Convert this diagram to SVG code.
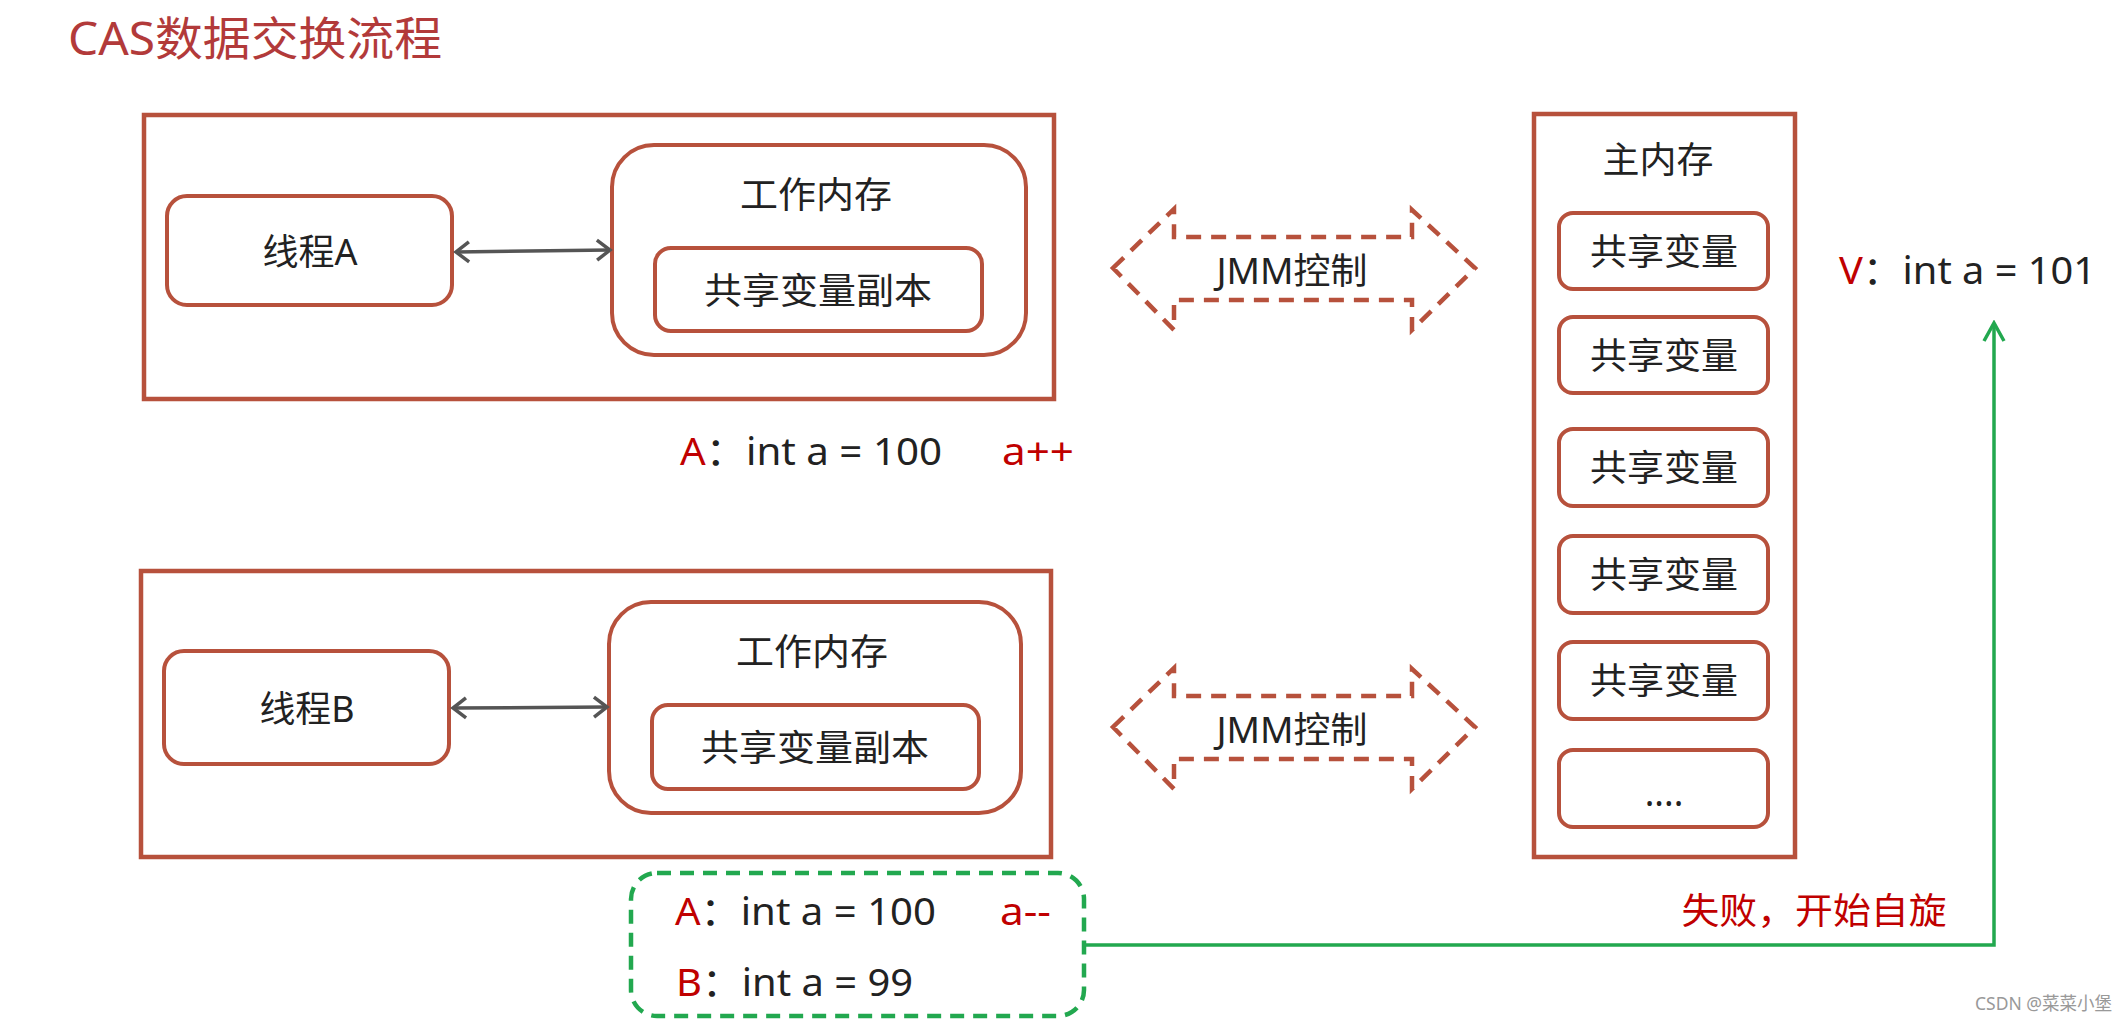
<svg xmlns="http://www.w3.org/2000/svg" width="2127" height="1023" viewBox="0 0 2127 1023">
<defs>
<style>
.box{fill:#fff;stroke:#B7513C;stroke-width:4}
.frame{fill:none;stroke:#B7513C;stroke-width:4.5}
.lbl{font-family:"Noto Sans","Noto Sans CJK SC",sans-serif;fill:#222;text-anchor:middle;dominant-baseline:central;font-size:36px}
.code{font-family:"Noto Sans","Noto Sans CJK SC",sans-serif;fill:#222;font-size:39px}
.red{fill:#C00000}
.jmm{fill:none;stroke:#B7513C;stroke-width:4.5;stroke-dasharray:15 10}
.garrow{fill:none;stroke:#555;stroke-width:3.5}
</style>
<marker id="ga" markerUnits="userSpaceOnUse" markerWidth="22" markerHeight="26" viewBox="0 0 22 26" refX="19" refY="13" orient="auto-start-reverse">
<path d="M6,3 L19,13 L6,23" fill="none" stroke="#555" stroke-width="3.5"/>
</marker>
<marker id="gr" markerUnits="userSpaceOnUse" markerWidth="24" markerHeight="26" viewBox="0 0 24 26" refX="21" refY="13" orient="auto">
<path d="M3,3 L21,13 L3,23" fill="none" stroke="#22A84F" stroke-width="3.5"/>
</marker>
</defs>
<rect width="2127" height="1023" fill="#fff"/>
<text x="68" y="55" font-family="'Noto Sans','Noto Sans CJK SC',sans-serif" font-size="46" fill="#B23A3A" textLength="374" lengthAdjust="spacingAndGlyphs">CAS数据交换流程</text>

<g id="threadA-frame">
<rect class="frame" x="144" y="115" width="910" height="284"/>
</g>
<g id="threadA">
<rect class="box" x="167" y="196" width="285" height="109" rx="20"/>
<text class="lbl" x="310" y="251" textLength="95" lengthAdjust="spacingAndGlyphs">线程A</text>
</g>
<g id="workmemA">
<rect class="box" x="612" y="145" width="414" height="210" rx="42"/>
<text class="lbl" x="816" y="194" textLength="152" lengthAdjust="spacingAndGlyphs">工作内存</text>
</g>
<g id="copyA">
<rect class="box" x="655" y="248" width="327" height="83" rx="16"/>
<text class="lbl" x="818" y="290" textLength="228" lengthAdjust="spacingAndGlyphs">共享变量副本</text>
</g>

<g id="threadB-frame">
<rect class="frame" x="141" y="571" width="910" height="286"/>
</g>
<g id="threadB">
<rect class="box" x="164" y="651" width="285" height="113" rx="20"/>
<text class="lbl" x="307" y="708" textLength="95" lengthAdjust="spacingAndGlyphs">线程B</text>
</g>
<g id="workmemB">
<rect class="box" x="609" y="602" width="412" height="211" rx="42"/>
<text class="lbl" x="812" y="651" textLength="152" lengthAdjust="spacingAndGlyphs">工作内存</text>
</g>
<g id="copyB">
<rect class="box" x="652" y="705" width="327" height="84" rx="16"/>
<text class="lbl" x="815" y="747" textLength="228" lengthAdjust="spacingAndGlyphs">共享变量副本</text>
</g>

<g id="mainmem">
<rect class="frame" x="1534" y="114" width="261" height="743"/>
<text class="lbl" x="1658" y="159" textLength="111" lengthAdjust="spacingAndGlyphs">主内存</text>
</g>
<g id="var1"><rect class="box" x="1559" y="213" width="209" height="76" rx="14"/><text class="lbl" x="1664" y="251" textLength="148" lengthAdjust="spacingAndGlyphs">共享变量</text></g>
<g id="var2"><rect class="box" x="1559" y="317" width="209" height="76" rx="14"/><text class="lbl" x="1664" y="355" textLength="148" lengthAdjust="spacingAndGlyphs">共享变量</text></g>
<g id="var3"><rect class="box" x="1559" y="429" width="209" height="77" rx="14"/><text class="lbl" x="1664" y="467" textLength="148" lengthAdjust="spacingAndGlyphs">共享变量</text></g>
<g id="var4"><rect class="box" x="1559" y="536" width="209" height="77" rx="14"/><text class="lbl" x="1664" y="574" textLength="148" lengthAdjust="spacingAndGlyphs">共享变量</text></g>
<g id="var5"><rect class="box" x="1559" y="642" width="209" height="77" rx="14"/><text class="lbl" x="1664" y="680" textLength="148" lengthAdjust="spacingAndGlyphs">共享变量</text></g>
<g id="var6"><rect class="box" x="1559" y="750" width="209" height="77" rx="14"/><text class="lbl" x="1664" y="792" font-size="20">....</text></g>

<g id="jmm1">
<path class="jmm" d="M1113,268 L1174,209 L1174,237 L1412,237 L1412,210 L1475,268 L1412,330 L1412,300 L1174,300 L1174,330 Z"/>
<text class="lbl" x="1292" y="270" font-size="34" textLength="151" lengthAdjust="spacingAndGlyphs">JMM控制</text>
</g>
<g id="jmm2">
<path class="jmm" d="M1113,727 L1174,668 L1174,696 L1412,696 L1412,669 L1475,727 L1412,789 L1412,759 L1174,759 L1174,789 Z"/>
<text class="lbl" x="1292" y="729" font-size="34" textLength="151" lengthAdjust="spacingAndGlyphs">JMM控制</text>
</g>

<g id="cmpbox">
<rect x="631" y="873" width="453" height="143" rx="26" fill="none" stroke="#22A84F" stroke-width="4.5" stroke-dasharray="14 9"/>
</g>

<g id="connectors">
<line class="garrow" x1="456" y1="252" x2="610" y2="250" marker-start="url(#ga)" marker-end="url(#ga)"/>
<line class="garrow" x1="453" y1="708" x2="607" y2="707" marker-start="url(#ga)" marker-end="url(#ga)"/>
<polyline points="1084,945 1994,945 1994,323" fill="none" stroke="#22A84F" stroke-width="3.5" marker-end="url(#gr)"/>
</g>

<g id="notes">
<text class="code" x="680" y="465" textLength="262" lengthAdjust="spacingAndGlyphs"><tspan class="red">A</tspan>：int a = 100</text>
<text class="code red" x="1002" y="465" textLength="72" lengthAdjust="spacingAndGlyphs">a++</text>
<text class="code" x="675" y="925" textLength="261" lengthAdjust="spacingAndGlyphs"><tspan class="red">A</tspan>：int a = 100</text>
<text class="code red" x="1000" y="925" textLength="51" lengthAdjust="spacingAndGlyphs">a--</text>
<text class="code" x="676" y="996" textLength="237" lengthAdjust="spacingAndGlyphs"><tspan class="red">B</tspan>：int a = 99</text>
<text class="code" x="1839" y="284" textLength="257" lengthAdjust="spacingAndGlyphs"><tspan class="red">V</tspan>：int a = 101</text>
<text class="lbl red" x="1814" y="910" font-size="37" textLength="265" lengthAdjust="spacingAndGlyphs">失败，开始自旋</text>
<text x="1975" y="1010" font-family="'Noto Sans','Noto Sans CJK SC',sans-serif" font-size="18" fill="#999" textLength="137" lengthAdjust="spacingAndGlyphs">CSDN @菜菜小堡</text>
</g>
</svg>
